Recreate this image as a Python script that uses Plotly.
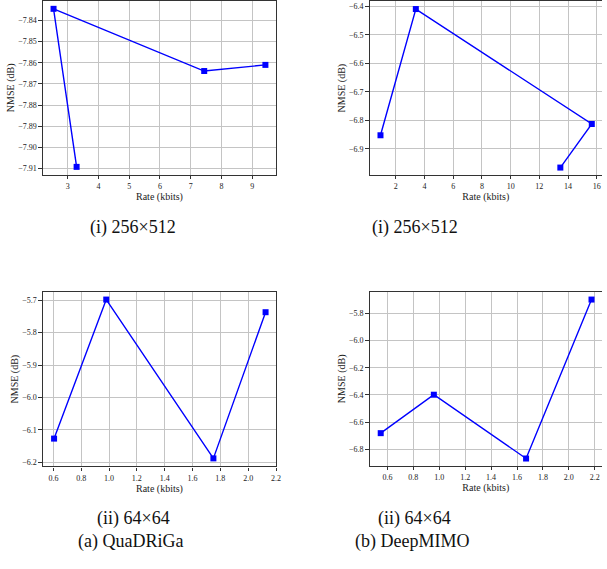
import plotly.graph_objects as go

W, H = 607, 569

# Data
q256_rate = [3.29, 2.54, 7.44, 9.43]
q256_nmse = [-7.9092, -7.8345, -7.8639, -7.8610]

d256_rate = [0.94, 3.40, 15.65, 13.46]
d256_nmse = [-6.8526, -6.4095, -6.8130, -6.9660]

q64_rate = [0.605, 0.98, 1.75, 2.125]
q64_nmse = [-6.127, -5.698, -6.188, -5.737]

d64_rate = [0.548, 0.958, 1.670, 2.175]
d64_nmse = [-6.680, -6.398, -6.866, -5.700]

captions_top = ["(i) 256\u00d7512", "(i) 256\u00d7512"]
captions_bot = ["(ii) 64\u00d764", "(ii) 64\u00d764"]
captions_set = ["(a) QuaDRiGa", "(b) DeepMIMO"]

SERIF = "Liberation Serif"
BLUE = "#0000ff"
GRID = "#c4c4c4"
FRAME = "#333333"

def px_x(a, b):
    return [a / W, min(b / W, 1.0)]

def px_y(top, bottom):
    return [1 - bottom / H, 1 - top / H]

panels = [
    dict(x=q256_rate, y=q256_nmse, xd=px_x(43.3, 278.3), yd=px_y(1.0, 175.0),
         xr=[2.195, 9.775], yr=[-7.9129, -7.8308],
         xt=dict(tick0=3, dtick=1, tickformat="d"),
         yt=dict(tick0=-7.91, dtick=0.01, tickformat=".2f"), ymirror=True),
    dict(x=d256_rate, y=d256_nmse, xd=px_x(372.7, 607), yd=px_y(1.5, 175.0),
         xr=[0.184, 16.36], yr=[-6.991, -6.383],
         xt=dict(tick0=2, dtick=2, tickformat="d"),
         yt=dict(tick0=-6.9, dtick=0.1, tickformat=".1f"), ymirror=False),
    dict(x=q64_rate, y=q64_nmse, xd=px_x(43.3, 278.3), yd=px_y(292.3, 467.3),
         xr=[0.525, 2.2], yr=[-6.213, -5.674],
         xt=dict(tick0=0.6, dtick=0.2, tickformat=".1f"),
         yt=dict(tick0=-6.2, dtick=0.1, tickformat=".1f"), ymirror=True),
    dict(x=d64_rate, y=d64_nmse, xd=px_x(372.7, 607), yd=px_y(292.3, 466.7),
         xr=[0.4624, 2.256], yr=[-6.92, -5.643],
         xt=dict(tick0=0.6, dtick=0.2, tickformat=".1f"),
         yt=dict(tick0=-6.8, dtick=0.2, tickformat=".1f"), ymirror=False),
]

fig = go.Figure()
layout = dict(
    width=W, height=H,
    margin=dict(l=0, r=0, t=0, b=0),
    paper_bgcolor="white", plot_bgcolor="white",
    showlegend=False,
    font=dict(family=SERIF, color="#222222"),
)

for i, p in enumerate(panels, start=1):
    xa = "x" if i == 1 else f"x{i}"
    ya = "y" if i == 1 else f"y{i}"
    fig.add_trace(go.Scatter(
        x=p["x"], y=p["y"], mode="lines+markers",
        line=dict(color=BLUE, width=1.4),
        marker=dict(symbol="square", size=6, color=BLUE),
        xaxis=xa, yaxis=ya, cliponaxis=False,
    ))
    common = dict(showgrid=True, gridcolor=GRID, gridwidth=1.3,
                  showline=True, linecolor=FRAME, linewidth=1.2,
                  ticks="outside", ticklen=3.5, tickwidth=0.8, tickcolor=FRAME,
                  tickfont=dict(family=SERIF, size=8, color="#222222"),
                  zeroline=False, tickmode="linear")
    layout["xaxis" if i == 1 else f"xaxis{i}"] = dict(
        domain=p["xd"], range=p["xr"], anchor=ya, mirror=True,
        title=dict(text="Rate (kbits)", font=dict(family=SERIF, size=10), standoff=0),
        **p["xt"], **common)
    layout["yaxis" if i == 1 else f"yaxis{i}"] = dict(
        domain=p["yd"], range=p["yr"], anchor=xa, mirror=p["ymirror"],
        title=dict(text="NMSE (dB)", font=dict(family=SERIF, size=10), standoff=1),
        **p["yt"], **common)

fig.update_layout(**layout)

ann = []
for cx, t in zip([134.5, 418], captions_top):
    ann.append(dict(x=cx / W, y=1 - 228 / H, text=t))
for cx, t in zip([134.3, 417.8], captions_bot):
    ann.append(dict(x=cx / W, y=1 - 519 / H, text=t))
for cx, t in zip([131.5, 415], captions_set):
    ann.append(dict(x=cx / W, y=1 - 542 / H, text=t))
for a in ann:
    fig.add_annotation(xref="paper", yref="paper", showarrow=False,
                       xanchor="center", yanchor="middle",
                       font=dict(family=SERIF, size=18, color="#111111"), **a)

fig.write_html(
    "out.html",
    config={"displayModeBar": False},
    post_script="document.body.style.margin='0';document.body.style.overflow='hidden';",
)
